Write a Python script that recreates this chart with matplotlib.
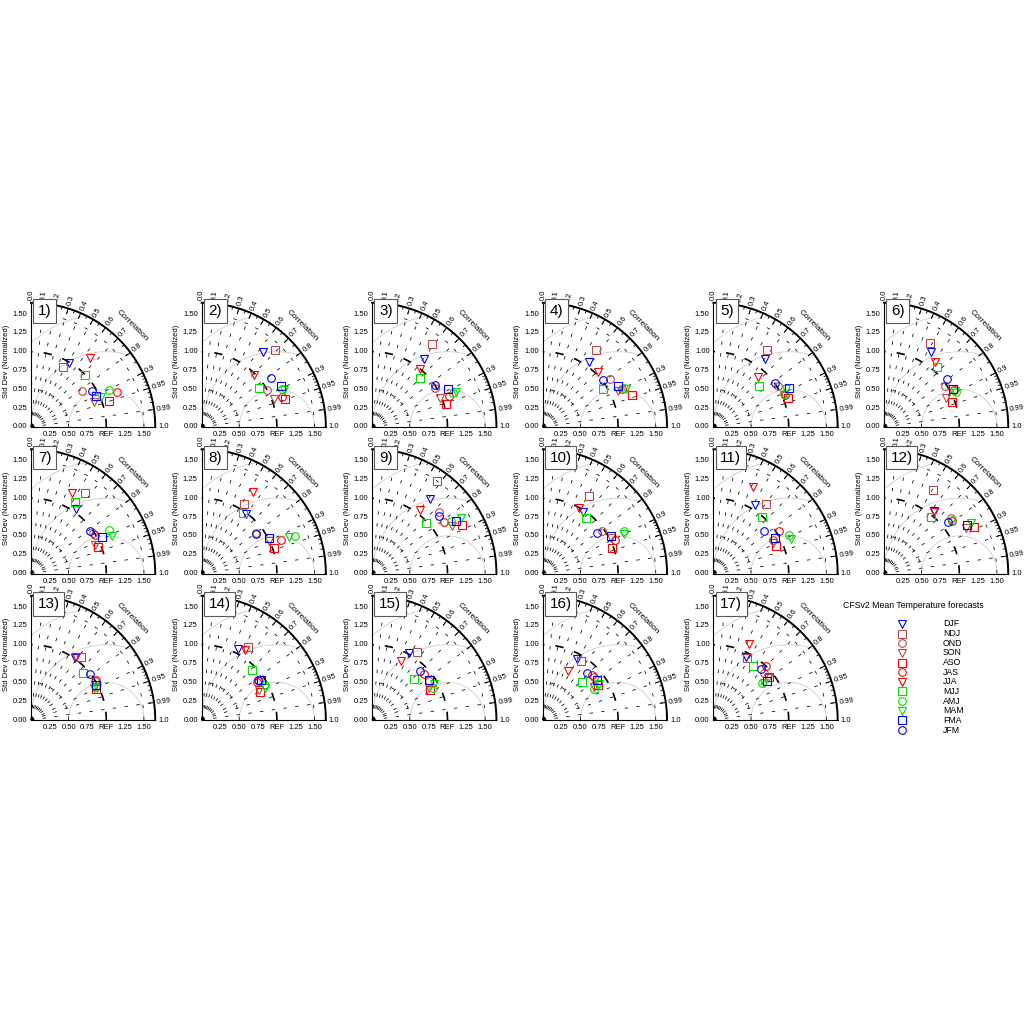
import numpy as np
import matplotlib
matplotlib.use("Agg")
import matplotlib.pyplot as plt

plt.rcParams["font.family"] = ["Liberation Sans", "DejaVu Sans"]
plt.rcParams["lines.scale_dashes"] = False

# Seasons (legend order) and their marker styles
SEASONS = ["DJF", "NDJ", "OND", "SON", "ASO", "JAS", "JJA", "MJJ", "AMJ", "MAM", "FMA", "JFM"]
COLORS = ["#0000ff", "#b44c4c", "#b44c4c", "#b44c4c", "#ff0000", "#ff0000",
          "#ff0000", "#00e000", "#00e000", "#00e000", "#0000ff", "#0000ff"]
MARKERS = ["v", "s", "o", "v", "s", "o", "v", "s", "o", "v", "s", "o"]
TITLE = "CFSv2 Mean Temperature forecasts"

# normalized std dev per panel (season order as SEASONS)
STD = [
    [0.99, 0.91, 0.83, 0.90, 1.09, 1.23, 1.20, 1.00, 1.15, 1.01, 0.96, 0.94],
    [1.28, 1.41, 1.00, 1.03, 1.17, 1.14, 0.98, 0.92, 1.18, 1.20, 1.19, 1.13],
    [1.13, 1.36, 0.98, 0.98, 1.03, 1.10, 1.00, 0.91, 1.16, 1.20, 1.13, 1.01],
    [1.06, 1.25, 1.10, 1.11, 1.26, 1.17, 1.03, 0.95, 1.20, 1.22, 1.14, 1.02],
    [1.13, 1.25, 1.02, 1.03, 1.07, 1.04, 0.89, 0.82, 1.03, 1.09, 1.13, 1.01],
    [1.17, 1.27, 0.98, 0.91, 0.96, 1.05, 1.10, 1.06, 1.06, 1.06, 1.05, 1.05],
    [1.04, 1.28, 0.98, 0.93, 0.96, 0.99, 1.20, 1.11, 1.19, 1.18, 1.06, 0.96],
    [0.99, 1.08, 0.90, 0.99, 1.02, 1.15, 1.28, 0.97, 1.34, 1.26, 1.01, 0.89],
    [1.25, 1.50, 1.20, 1.23, 1.35, 1.17, 1.05, 0.98, 1.25, 1.39, 1.31, 1.17],
    [0.98, 1.20, 0.97, 1.02, 0.98, 1.06, 0.99, 0.94, 1.21, 1.20, 1.04, 0.90],
    [1.06, 1.16, 0.91, 0.89, 0.91, 1.04, 1.27, 0.99, 1.13, 1.12, 0.94, 0.87],
    [1.06, 1.29, 1.16, 1.25, 1.34, 1.14, 1.05, 0.98, 1.15, 1.33, 1.28, 1.09],
    [1.01, 1.07, 1.00, 0.94, 0.95, 1.02, 1.03, 0.93, 0.97, 0.97, 0.98, 0.99],
    [1.06, 1.15, 0.92, 0.86, 0.86, 0.90, 1.10, 0.94, 0.96, 0.95, 0.95, 0.92],
    [1.02, 1.08, 0.91, 0.86, 0.86, 0.92, 0.87, 0.78, 0.91, 0.95, 0.92, 0.91],
    [0.93, 0.93, 0.89, 0.81, 0.87, 0.89, 0.73, 0.72, 0.79, 0.89, 0.89, 0.85],
    [0.94, 0.94, 0.91, 0.91, 0.93, 1.00, 1.11, 0.89, 0.81, 0.83, 0.88, 0.93],
]

# correlation per panel
CORR = [
    [0.515, 0.474, 0.817, 0.931, 0.949, 0.927, 0.651, 0.717, 0.904, 0.919, 0.905, 0.860],
    [0.633, 0.693, 0.871, 0.933, 0.949, 0.937, 0.707, 0.830, 0.906, 0.912, 0.888, 0.817],
    [0.603, 0.580, 0.848, 0.921, 0.953, 0.928, 0.633, 0.696, 0.922, 0.924, 0.893, 0.832],
    [0.574, 0.568, 0.812, 0.905, 0.943, 0.900, 0.707, 0.843, 0.901, 0.908, 0.880, 0.786],
    [0.603, 0.568, 0.842, 0.908, 0.932, 0.915, 0.661, 0.743, 0.904, 0.889, 0.887, 0.812],
    [0.531, 0.482, 0.827, 0.903, 0.936, 0.885, 0.616, 0.663, 0.896, 0.893, 0.875, 0.792],
    [0.570, 0.556, 0.840, 0.913, 0.931, 0.858, 0.457, 0.521, 0.873, 0.909, 0.887, 0.812],
    [0.594, 0.527, 0.800, 0.901, 0.943, 0.920, 0.538, 0.567, 0.927, 0.924, 0.885, 0.805],
    [0.609, 0.573, 0.736, 0.860, 0.881, 0.813, 0.600, 0.732, 0.833, 0.847, 0.846, 0.753],
    [0.550, 0.510, 0.811, 0.887, 0.938, 0.909, 0.483, 0.617, 0.886, 0.898, 0.876, 0.800],
    [0.517, 0.601, 0.876, 0.892, 0.917, 0.836, 0.419, 0.649, 0.893, 0.915, 0.865, 0.767],
    [0.622, 0.505, 0.769, 0.873, 0.887, 0.789, 0.632, 0.643, 0.789, 0.864, 0.866, 0.781],
    [0.584, 0.624, 0.853, 0.894, 0.903, 0.850, 0.581, 0.744, 0.890, 0.901, 0.877, 0.788],
    [0.455, 0.539, 0.825, 0.885, 0.903, 0.823, 0.529, 0.712, 0.873, 0.892, 0.830, 0.817],
    [0.482, 0.548, 0.827, 0.872, 0.885, 0.749, 0.438, 0.720, 0.881, 0.868, 0.817, 0.702],
    [0.486, 0.540, 0.766, 0.840, 0.841, 0.735, 0.453, 0.721, 0.856, 0.842, 0.805, 0.683],
    [0.456, 0.481, 0.734, 0.795, 0.788, 0.692, 0.422, 0.586, 0.794, 0.807, 0.807, 0.685],
]

CORR_TICKS = [0.0, 0.1, 0.2, 0.3, 0.4, 0.5, 0.6, 0.7, 0.8, 0.9, 0.95, 0.99, 1.0]
CORR_LABELS = ["0.0", "0.1", "0.2", "0.3", "0.4", "0.5", "0.6", "0.7", "0.8", "0.9", "0.95", "0.99", "1.0"]
CORR_MINOR = [0.05, 0.15, 0.25, 0.35, 0.45, 0.55, 0.65, 0.75, 0.85, 0.91, 0.92, 0.93, 0.94, 0.96, 0.97, 0.98]
Y_TICKS = [0.0, 0.25, 0.5, 0.75, 1.0, 1.25, 1.5]
Y_LABELS = ["0.00", "0.25", "0.50", "0.75", "1.00", "1.25", "1.50"]
X_TICKS = [0.25, 0.5, 0.75, 1.0, 1.25, 1.5]
X_LABELS = ["0.25", "0.50", "0.75", "REF", "1.25", "1.50"]

RMAX = 1.65
S = 75.3          # pixels per unit
FIG = 1024
DASH = (0, (2.5, 6))
FS = 5.5


def draw_taylor(ax, std, corr, num):
    th = np.linspace(0, np.pi / 2, 200)

    # centered RMS circles about REF
    t = np.linspace(0, np.pi, 400)
    for rr in (0.5, 1.0, 1.5):
        x = 1 + rr * np.cos(t)
        y = rr * np.sin(t)
        bad = (np.hypot(x, y) > RMAX) | (x < 0)
        x[bad] = np.nan
        ax.plot(x, y, color="0.8", lw=0.6, zorder=1)

    # std dev arcs
    for rr in (0.5, 1.5):
        ax.plot(rr * np.cos(th), rr * np.sin(th), color="k", lw=0.55, ls=DASH, zorder=2)
    ax.plot(np.cos(th), np.sin(th), color="k", lw=1.2, ls=(0, (6, 8)), zorder=2)

    # correlation rays
    for c in CORR_TICKS[1:-1]:
        a = np.arccos(c)
        ax.plot([0, RMAX * np.cos(a)], [0, RMAX * np.sin(a)], color="k", lw=0.55, ls=DASH, zorder=2)

    # frame
    ax.plot(RMAX * np.cos(th), RMAX * np.sin(th), color="k", lw=1.4, zorder=3)
    ax.plot([0, 0], [0, RMAX], color="k", lw=0.8, zorder=3)
    ax.plot([0, RMAX], [0, 0], color="k", lw=0.8, zorder=3)

    # ticks on the correlation arc
    for c in CORR_TICKS:
        a = np.arccos(c)
        ax.plot([RMAX * np.cos(a), (RMAX - 0.07) * np.cos(a)],
                [RMAX * np.sin(a), (RMAX - 0.07) * np.sin(a)], color="k", lw=0.7, zorder=3)
    for c in CORR_MINOR:
        a = np.arccos(c)
        ax.plot([RMAX * np.cos(a), (RMAX - 0.035) * np.cos(a)],
                [RMAX * np.sin(a), (RMAX - 0.035) * np.sin(a)], color="k", lw=0.6, zorder=3)

    # labels
    for c, lab in zip(CORR_TICKS, CORR_LABELS):
        a = np.arccos(c)
        ax.text(1.69 * np.cos(a), 1.69 * np.sin(a), lab, rotation=np.degrees(a),
                rotation_mode="anchor", ha="left", va="center", fontsize=FS)
    ax.text(1.34, 1.34, "Correlation", rotation=-45, ha="center", va="center", fontsize=FS + 0.5)
    for v, lab in zip(Y_TICKS, Y_LABELS):
        ax.text(-0.05, v, lab, ha="right", va="center", fontsize=FS)
    for v, lab in zip(X_TICKS, X_LABELS):
        ax.text(v, -0.105, lab, ha="center", va="center", fontsize=FS)
    ax.text(-0.33, 0.87, "Std Dev (Normalized)", rotation=90, ha="center", va="center", fontsize=FS)

    ax.text(0.09, 1.54, f"{num})", fontsize=11, ha="left", va="center", zorder=6,
            bbox=dict(boxstyle="square,pad=0.3", fc="white", ec="0.35", lw=0.8))

    # data
    for s, c, m, col in zip(std, corr, MARKERS, COLORS):
        a = np.arccos(c)
        ax.plot(s * np.cos(a), s * np.sin(a), marker=m, mfc="none", mec=col,
                ms=5.5, mew=0.8, ls="none", zorder=5)


fig = plt.figure(figsize=(10.24, 10.24), dpi=100)

x0, x1, y0, y1 = -0.42, 1.85, -0.25, 1.80
for k in range(len(STD)):
    row, col = divmod(k, 6)
    ox = 31 + 170.6 * col
    oy = 427 + 146.5 * row
    ax = fig.add_axes([(ox + x0 * S) / FIG, (FIG - oy + y0 * S) / FIG,
                       (x1 - x0) * S / FIG, (y1 - y0) * S / FIG])
    ax.set_xlim(x0, x1)
    ax.set_ylim(y0, y1)
    ax.axis("off")
    draw_taylor(ax, STD[k], CORR[k], k + 1)

# legend
lax = fig.add_axes([0, 0, 1, 1])
lax.set_xlim(0, FIG)
lax.set_ylim(FIG, 0)
lax.axis("off")
lax.text(843, 605, TITLE, ha="left", va="center", fontsize=6.3)
for i, (name, m, col) in enumerate(zip(SEASONS, MARKERS, COLORS)):
    yy = 624 + 9.64 * i
    lax.plot(902, yy, marker=m, mfc="none", mec=col, ms=5.5, mew=0.8, ls="none")
    lax.text(943, yy, name, ha="left", va="center", fontsize=6.3)

fig.savefig("out.png", dpi=100)
